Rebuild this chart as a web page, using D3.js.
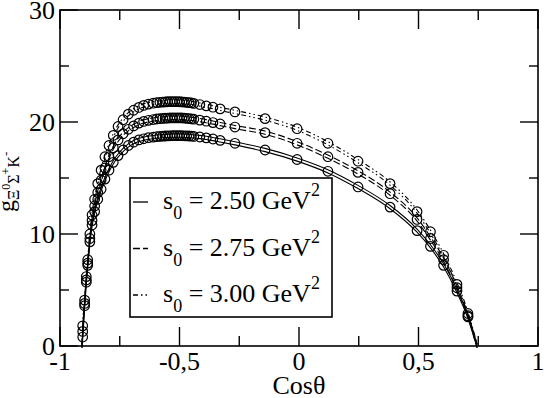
<!DOCTYPE html>
<html>
<head>
<meta charset="utf-8">
<script src="https://cdn.jsdelivr.net/npm/d3@7"></script>
<style>
  html, body { margin: 0; padding: 0; background: #fff; }
  svg { display: block; }
</style>
</head>
<body>
<svg id="chart"></svg>
<script>
/* g(Ξ0 Σ+ K-) coupling vs cos(theta) for three continuum thresholds s0 */
(function () {
  'use strict';

  // cos(theta) sampling points (shared by the three curves)
  const COS = [
    -0.905, -0.897, -0.890, -0.884, -0.875, -0.866, -0.855, -0.842, -0.828, -0.812,
    -0.795, -0.777, -0.757, -0.736, -0.714, -0.692, -0.670, -0.650, -0.630, -0.610,
    -0.595, -0.582, -0.570, -0.560, -0.550, -0.540, -0.530, -0.520, -0.510, -0.500,
    -0.490, -0.480, -0.470, -0.460, -0.450, -0.440, -0.415, -0.388, -0.360, -0.330,
    -0.268, -0.142, -0.008, 0.121, 0.247, 0.381, 0.494, 0.550, 0.605, 0.661, 0.707
  ];
  const G_250 = [
    0.8, 3.6, 5.7, 7.2, 9.3, 10.8, 12.0, 13.1, 14.0, 14.9,
    15.7, 16.4, 17.0, 17.5, 17.9, 18.2, 18.4, 18.5, 18.6, 18.65,
    18.7, 18.72, 18.74, 18.75, 18.76, 18.77, 18.78, 18.78, 18.78, 18.78,
    18.78, 18.77, 18.76, 18.75, 18.73, 18.71, 18.66, 18.58, 18.48, 18.36,
    18.1, 17.5, 16.65, 15.6, 14.2, 12.4, 10.3, 8.9, 7.2, 4.9, 2.6
  ];
  const G_275 = [
    1.3, 3.8, 5.9, 7.4, 9.6, 11.2, 12.5, 13.7, 14.8, 15.9,
    16.9, 17.7, 18.4, 18.95, 19.35, 19.65, 19.9, 20.05, 20.15, 20.22,
    20.27, 20.3, 20.32, 20.34, 20.35, 20.36, 20.37, 20.37, 20.37, 20.37,
    20.36, 20.35, 20.33, 20.31, 20.28, 20.25, 20.17, 20.07, 19.95, 19.82,
    19.55, 19.05, 18.1, 16.9, 15.5, 13.6, 11.3, 9.6, 7.7, 5.2, 2.7
  ];
  const G_300 = [
    1.8, 4.1, 6.2, 7.7, 10.0, 11.7, 13.1, 14.5, 15.7, 16.9,
    17.9, 18.8, 19.6, 20.2, 20.7, 21.05, 21.3, 21.48, 21.6, 21.68,
    21.73, 21.76, 21.78, 21.8, 21.81, 21.82, 21.82, 21.82, 21.82, 21.81,
    21.8, 21.78, 21.76, 21.73, 21.7, 21.66, 21.56, 21.44, 21.32, 21.17,
    20.9, 20.3, 19.4, 18.1, 16.5, 14.5, 12.0, 10.2, 8.1, 5.5, 2.9
  ];
  // where the curves reach zero at both ends
  const ZERO_LEFT = -0.908;
  const ZERO_RIGHT = 0.745;

  const S0_LABELS = ['2.50', '2.75', '3.00'];

  const X_TICKS = [-1, -0.5, 0, 0.5, 1];
  const X_TICK_LABELS = ['-1', '-0,5', '0', '0,5', '1'];
  const X_MINOR = [-0.75, -0.25, 0.25, 0.75];
  const Y_TICKS = [0, 10, 20, 30];
  const Y_TICK_LABELS = ['0', '10', '20', '30'];
  const Y_MINOR = [5, 15, 25];

  const W = 545, H = 398;
  const FONT = '"Liberation Serif", "Times New Roman", serif';
  const DASHES = [null, '7,3', '5,3,1.5,3,1.5,3'];

  const svg = d3.select('#chart').attr('width', W).attr('height', H);
  const x = d3.scaleLinear().domain([-1, 1]).range([60, 538]);
  const y = d3.scaleLinear().domain([0, 30]).range([346, 10]);
  const [x0, x1] = x.range();
  const [y0, y1] = y.range();

  const series = [G_250, G_275, G_300].map((g, i) => ({
    label: S0_LABELS[i],
    dash: DASHES[i],
    points: COS.map((c, k) => [c, g[k]]),
  }));

  // Curves (each one drawn as a thin double line)
  const line = d3.line().x((d) => x(d[0])).y((d) => y(d[1])).curve(d3.curveMonotoneX);
  series.forEach((s) => {
    const pts = [[ZERO_LEFT, 0]].concat(s.points, [[ZERO_RIGHT, 0]]);
    [-1.6, 1.6].forEach((off) => {
      svg.append('path').datum(pts)
        .attr('transform', `translate(0,${off})`)
        .attr('d', line)
        .attr('fill', 'none').attr('stroke', '#000').attr('stroke-width', 1.1)
        .attr('stroke-dasharray', s.dash);
    });
  });

  // Circles
  series.forEach((s) => {
    svg.append('g').selectAll('circle').data(s.points).enter().append('circle')
      .attr('cx', (d) => x(d[0])).attr('cy', (d) => y(d[1]))
      .attr('r', 4.8)
      .attr('fill', 'none').attr('stroke', '#000').attr('stroke-width', 1.2);
  });

  // Frame
  svg.append('rect').attr('x', x0).attr('y', y1).attr('width', x1 - x0).attr('height', y0 - y1)
    .attr('fill', 'none').attr('stroke', '#000').attr('stroke-width', 1.6);

  // Ticks (inward, on all four sides)
  const tk = svg.append('g').attr('stroke', '#000').attr('stroke-width', 1.4);
  const xt = (v, len) => {
    tk.append('line').attr('x1', x(v)).attr('x2', x(v)).attr('y1', y0).attr('y2', y0 - len);
    tk.append('line').attr('x1', x(v)).attr('x2', x(v)).attr('y1', y1).attr('y2', y1 + len);
  };
  const yt = (v, len) => {
    tk.append('line').attr('y1', y(v)).attr('y2', y(v)).attr('x1', x0).attr('x2', x0 + len);
    tk.append('line').attr('y1', y(v)).attr('y2', y(v)).attr('x1', x1).attr('x2', x1 - len);
  };
  X_TICKS.forEach((v) => xt(v, 19));
  X_MINOR.forEach((v) => xt(v, 10));
  Y_TICKS.forEach((v) => yt(v, 18));
  Y_MINOR.forEach((v) => yt(v, 9));

  // Tick labels
  svg.append('g').selectAll('text').data(X_TICKS).enter().append('text')
    .attr('x', (d) => x(d)).attr('y', 370)
    .attr('text-anchor', 'middle')
    .style('font-family', FONT).style('font-size', '26px')
    .text((d, i) => X_TICK_LABELS[i]);
  svg.append('g').selectAll('text').data(Y_TICKS).enter().append('text')
    .attr('x', 55).attr('y', (d) => y(d)).attr('dy', '0.34em')
    .attr('text-anchor', 'end')
    .style('font-family', FONT).style('font-size', '26px')
    .text((d, i) => Y_TICK_LABELS[i]);

  // Axis titles
  svg.append('text').attr('x', x(0)).attr('y', 394).attr('text-anchor', 'middle')
    .style('font-family', FONT).style('font-size', '26px').text('Cos\u03b8');

  const yl = svg.append('text')
    .attr('transform', 'translate(14,212) rotate(-90)')
    .style('font-family', FONT).style('font-size', '24px');
  yl.append('tspan').text('g');
  const parts = [['\u039e', 5, 16], ['0', -9, 12], ['\u03a3', 9, 16], ['+', -9, 12], ['K', 9, 16], ['-', -9, 13]];
  parts.forEach((p) => {
    yl.append('tspan').attr('dy', p[1]).style('font-size', p[2] + 'px').text(p[0]);
  });

  // Legend
  const lg = svg.append('g');
  lg.append('rect').attr('x', 130).attr('y', 178).attr('width', 202).attr('height', 139)
    .attr('fill', '#fff').attr('stroke', '#000').attr('stroke-width', 1.6);
  series.forEach((s, i) => {
    const by = 209 + i * 46.5;
    lg.append('line').attr('x1', 133).attr('x2', 148).attr('y1', by - 7).attr('y2', by - 7)
      .attr('stroke', '#000').attr('stroke-width', 1.3).attr('stroke-dasharray', s.dash);
    const t = lg.append('text').attr('x', 163).attr('y', by)
      .style('font-family', FONT).style('font-size', '26px');
    t.append('tspan').text('s');
    t.append('tspan').attr('dy', 10).style('font-size', '18px').text('0');
    t.append('tspan').attr('dy', -10).text(' = ' + s.label + ' GeV');
    t.append('tspan').attr('dy', -13).style('font-size', '18px').text('2');
  });
})();
</script>
</body>
</html>
